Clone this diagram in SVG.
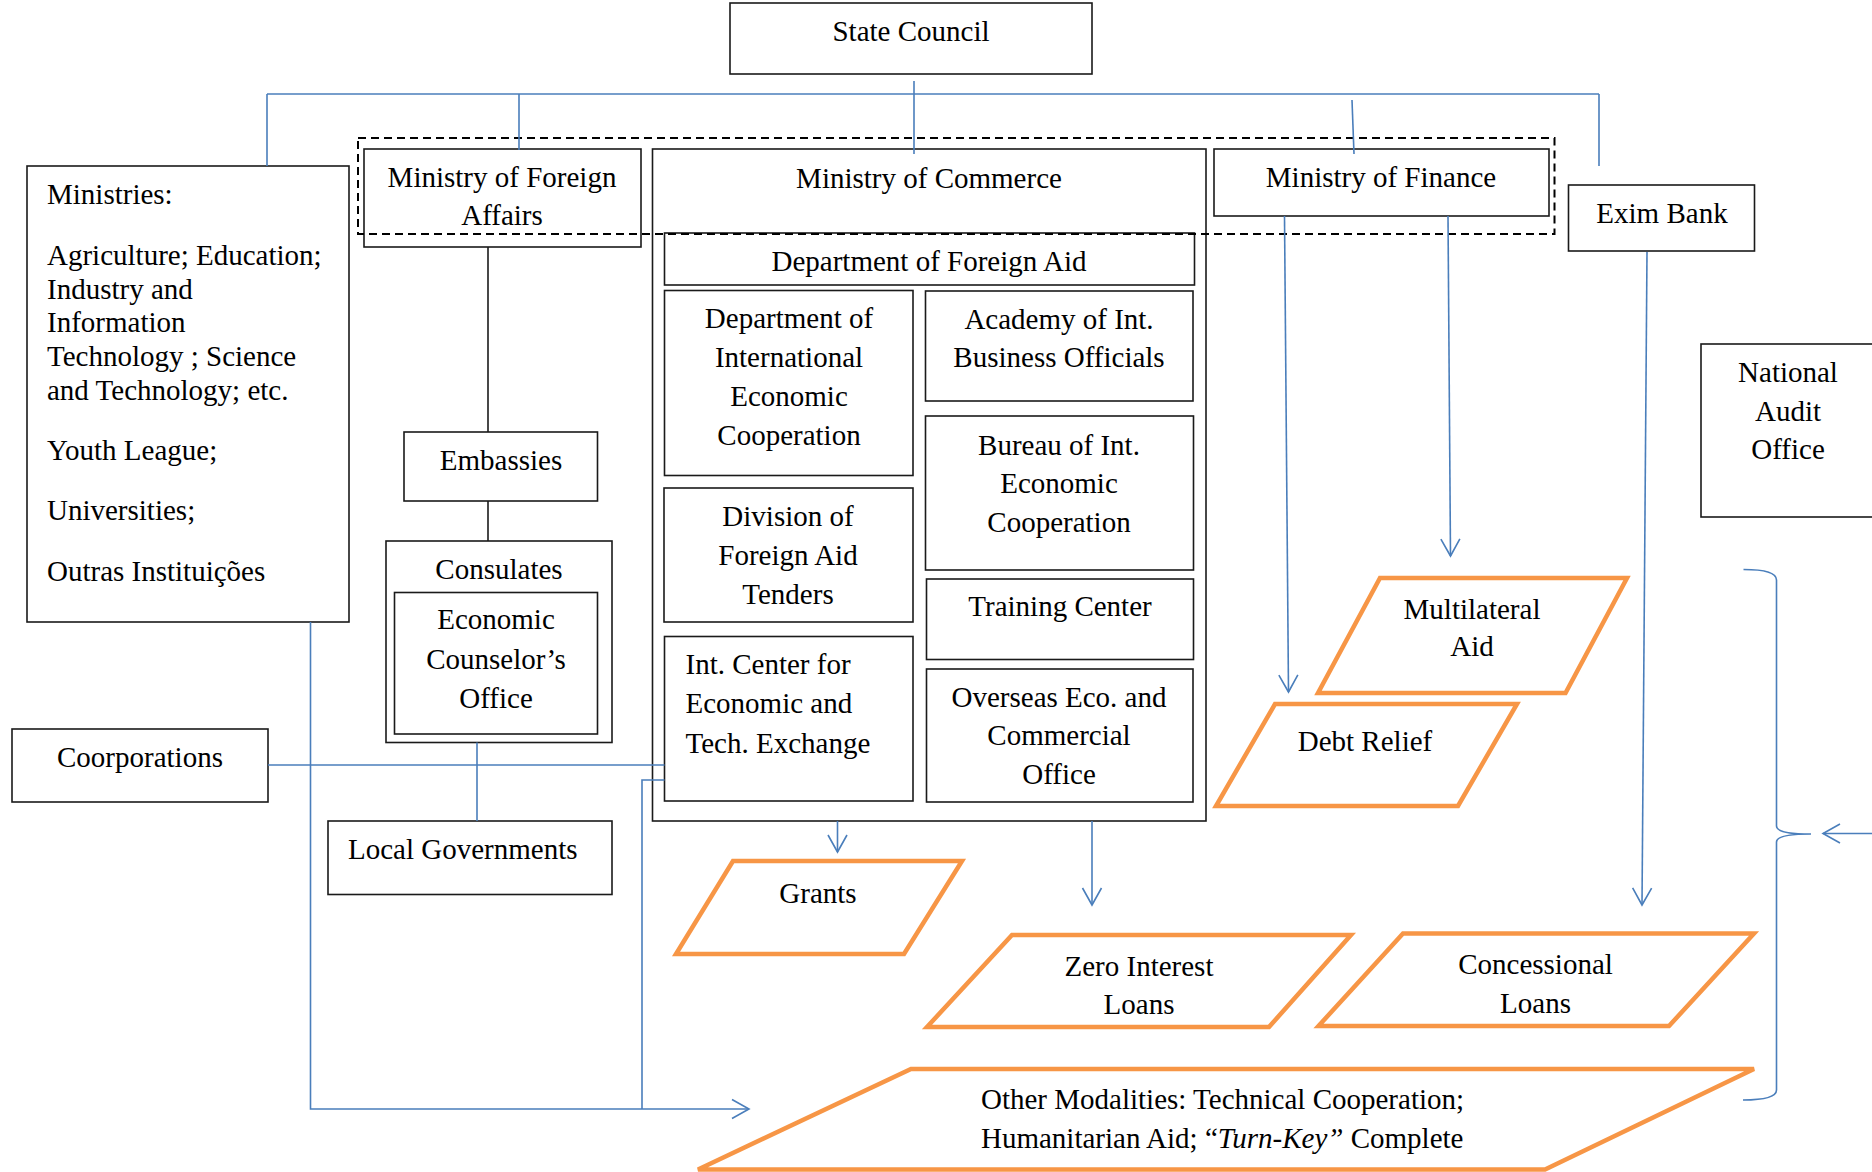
<svg xmlns="http://www.w3.org/2000/svg" width="1872" height="1172" viewBox="0 0 1872 1172">
<style>
.box{fill:#fff;stroke:#1a1a1a;stroke-width:1.6}
.para{fill:#fff;stroke:#F79646;stroke-width:4.5;stroke-linejoin:miter}
.t{font-family:"Liberation Serif","Times New Roman",serif;font-size:29px;fill:#000}
.c{text-anchor:middle}
.blue{fill:none;stroke:#4A7EBB;stroke-width:1.6}
.blk{fill:none;stroke:#1a1a1a;stroke-width:1.6}
.dash{fill:none;stroke:#000;stroke-width:2;stroke-dasharray:8 5}
</style>
<defs>
<marker id="arr" markerUnits="userSpaceOnUse" viewBox="-20 -12 22 24" refX="0" refY="0" markerWidth="22" markerHeight="24" orient="auto" overflow="visible">
<path d="M-17,-9.5 L0,0 L-17,9.5" fill="none" stroke="#4A7EBB" stroke-width="1.6"/>
</marker>
</defs>
<rect width="1872" height="1172" fill="#fff"/>

<g id="state-council"><rect class="box" x="730" y="3" width="362" height="71"/><text class="t c" x="911" y="41">State Council</text></g>

<g id="ministries"><rect class="box" x="27" y="166" width="322" height="456"/>
<text class="t" x="47" y="204">Ministries:</text>
<text class="t" x="47" y="265">Agriculture; Education;</text>
<text class="t" x="47" y="298.5">Industry and</text>
<text class="t" x="47" y="332">Information</text>
<text class="t" x="47" y="365.5">Technology ; Science</text>
<text class="t" x="47" y="399.5">and Technology; etc.</text>
<text class="t" x="47" y="460">Youth League;</text>
<text class="t" x="47" y="520">Universities;</text>
<text class="t" x="47" y="580.5">Outras Instituições</text></g>

<g id="mofa"><rect class="box" x="364" y="149" width="277" height="98"/><text class="t c" x="502" y="187">Ministry of Foreign</text><text class="t c" x="502" y="225">Affairs</text></g>

<g id="moc"><rect class="box" x="652.5" y="149" width="553.5" height="672"/><text class="t c" x="929" y="188">Ministry of Commerce</text></g>

<g id="mof"><rect class="box" x="1214" y="149" width="335" height="67"/><text class="t c" x="1381" y="187">Ministry of Finance</text></g>

<g id="exim"><rect class="box" x="1568.5" y="185" width="186" height="66"/><text class="t c" x="1662" y="223">Exim Bank</text></g>

<g id="dept-foreign-aid"><rect class="box" x="664.5" y="233" width="530" height="52"/><text class="t c" x="929" y="271">Department of Foreign Aid</text></g>

<g id="dept-iec"><rect class="box" x="664.5" y="290.5" width="248.5" height="185"/>
<text class="t c" x="789" y="328">Department of</text><text class="t c" x="789" y="367">International</text><text class="t c" x="789" y="406">Economic</text><text class="t c" x="789" y="445">Cooperation</text></g>

<g id="academy"><rect class="box" x="925.5" y="291" width="267.5" height="110"/><text class="t c" x="1059" y="329">Academy of Int.</text><text class="t c" x="1059" y="367">Business Officials</text></g>

<g id="bureau"><rect class="box" x="925.5" y="416" width="268" height="154"/><text class="t c" x="1059" y="454.5">Bureau of Int.</text><text class="t c" x="1059" y="492.5">Economic</text><text class="t c" x="1059" y="531.5">Cooperation</text></g>

<g id="division"><rect class="box" x="664" y="488" width="249" height="134"/><text class="t c" x="788" y="525.5">Division of</text><text class="t c" x="788" y="564.5">Foreign Aid</text><text class="t c" x="788" y="603.5">Tenders</text></g>

<g id="training"><rect class="box" x="926.5" y="579" width="267" height="80.5"/><text class="t c" x="1060" y="616">Training Center</text></g>

<g id="int-center"><rect class="box" x="664.5" y="636.5" width="248.5" height="164.5"/><text class="t" x="685.5" y="674">Int. Center for</text><text class="t" x="685.5" y="713">Economic and</text><text class="t" x="685.5" y="752.5">Tech. Exchange</text></g>

<g id="overseas"><rect class="box" x="926.5" y="669" width="266.5" height="133"/><text class="t c" x="1059" y="707">Overseas Eco. and</text><text class="t c" x="1059" y="745">Commercial</text><text class="t c" x="1059" y="783.5">Office</text></g>

<g id="embassies"><rect class="box" x="404" y="432" width="193.5" height="69"/><text class="t c" x="501" y="470">Embassies</text></g>

<g id="consulates"><rect class="box" x="386" y="541" width="226" height="201.5"/><text class="t c" x="499" y="579">Consulates</text>
<rect class="box" x="394.5" y="592.5" width="203" height="141.5"/>
<text class="t c" x="496" y="629">Economic</text><text class="t c" x="496" y="668.5">Counselor’s</text><text class="t c" x="496" y="707.5">Office</text></g>

<g id="coorporations"><rect class="box" x="12" y="729" width="256" height="73"/><text class="t c" x="140" y="767">Coorporations</text></g>

<g id="local-gov"><rect class="box" x="328" y="821" width="284" height="73.5"/><text class="t" x="348" y="859">Local Governments</text></g>

<g id="national-audit"><rect class="box" x="1701" y="344" width="190" height="173"/><text class="t c" x="1788" y="381.5">National</text><text class="t c" x="1788" y="420.5">Audit</text><text class="t c" x="1788" y="459">Office</text></g>

<g id="grants"><polygon class="para" points="733,861 962,861 904,954 676,954"/><text class="t c" x="818" y="903">Grants</text></g>

<g id="zero-interest"><polygon class="para" points="1012,935 1351,935 1269,1027 927,1027"/><text class="t c" x="1139" y="976">Zero Interest</text><text class="t c" x="1139" y="1014">Loans</text></g>

<g id="concessional"><polygon class="para" points="1403,933.5 1754,933.5 1669,1026 1318.5,1026"/><text class="t c" x="1535.5" y="974">Concessional</text><text class="t c" x="1535.5" y="1013">Loans</text></g>

<g id="multilateral"><polygon class="para" points="1380,578 1627,578 1565.5,693 1318,693"/><text class="t c" x="1472" y="619">Multilateral</text><text class="t c" x="1472" y="656">Aid</text></g>

<g id="debt-relief"><polygon class="para" points="1275,704 1517,704 1458,806 1216,806"/><text class="t c" x="1365" y="751">Debt Relief</text></g>

<g id="other-modalities"><polygon class="para" points="911,1069 1754,1069 1545,1169.5 698,1169.5"/><text class="t" x="981" y="1109">Other Modalities: Technical Cooperation;</text><text class="t" x="981" y="1148">Humanitarian Aid; “<tspan font-style="italic">Turn-Key”</tspan> Complete</text></g>

<g id="group-dashed"><rect class="dash" x="358" y="138" width="1196.5" height="96"/></g>

<g id="connectors">
<line class="blue" x1="267" y1="94" x2="1599" y2="94"/>
<line class="blue" x1="914" y1="81" x2="914" y2="154"/>
<line class="blue" x1="267" y1="94" x2="267" y2="166"/>
<line class="blue" x1="519" y1="94" x2="519" y2="150"/>
<line class="blue" x1="1352" y1="100" x2="1354" y2="154"/>
<line class="blue" x1="1599" y1="94" x2="1599" y2="166"/>
<line class="blue" x1="1284.5" y1="216" x2="1288.5" y2="692" marker-end="url(#arr)"/>
<line class="blue" x1="1448" y1="216" x2="1450.5" y2="556" marker-end="url(#arr)"/>
<line class="blue" x1="1647" y1="252" x2="1642" y2="905" marker-end="url(#arr)"/>
<line class="blue" x1="837.5" y1="821" x2="837.5" y2="852" marker-end="url(#arr)"/>
<line class="blue" x1="1092" y1="821" x2="1092" y2="905" marker-end="url(#arr)"/>
<polyline class="blue" points="310.5,622 310.5,1109 749,1109" marker-end="url(#arr)"/>
<polyline class="blue" points="664.5,780 642,780 642,1109"/>
<line class="blue" x1="268" y1="765" x2="664.5" y2="765" stroke-width="2"/>
<line class="blue" x1="477" y1="742.5" x2="477" y2="821"/>
<line class="blk" x1="488" y1="247" x2="488" y2="432"/>
<line class="blk" x1="488" y1="501" x2="488" y2="541"/>
<path class="blue" d="M1743.5,569.5 Q1776.5,569.5 1776.5,580 L1776.5,826 Q1776.5,834 1811,834 Q1776.5,834 1776.5,842 L1776.5,1090 Q1776.5,1100 1743,1100"/>
<line class="blue" x1="1880" y1="833.5" x2="1823" y2="833.5" marker-end="url(#arr)"/>
</g>
</svg>
